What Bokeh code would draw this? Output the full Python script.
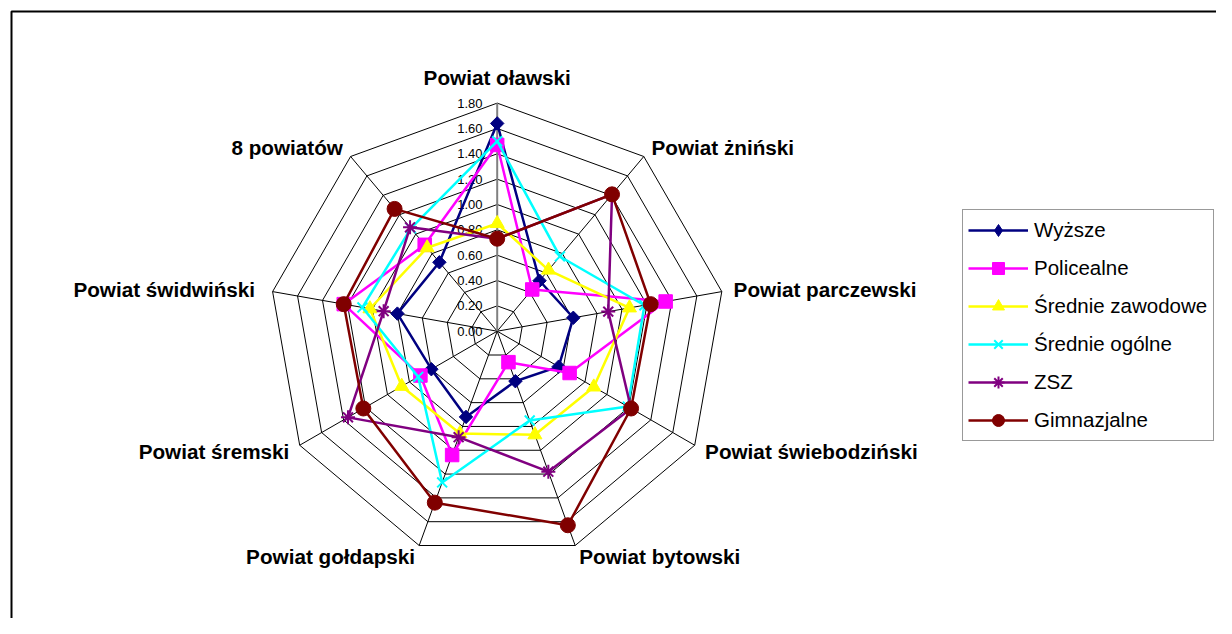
import numpy as np
from bokeh.plotting import figure
from bokeh.models import Range1d, Legend, LegendItem
from bokeh.core.properties import value
from bokeh.embed import file_html
from bokeh.resources import INLINE

# ---------------- data ----------------
categories = ["Powiat oławski", "Powiat żniński", "Powiat parczewski",
              "Powiat świebodziński", "Powiat bytowski", "Powiat gołdapski",
              "Powiat śremski", "Powiat  świdwiński", "8 powiatów"]
ticks = [0.0, 0.2, 0.4, 0.6, 0.8, 1.0, 1.2, 1.4, 1.6, 1.8]
tick_labels = ["0.00", "0.20", "0.40", "0.60", "0.80", "1.00", "1.20", "1.40", "1.60", "1.80"]

series_names = ["Wyższe", "Policealne", "Średnie zawodowe", "Średnie ogólne", "ZSZ", "Gimnazjalne"]
wyzsze      = [1.64, 0.52, 0.61, 0.56, 0.42, 0.72, 0.60, 0.80, 0.71]
policealne  = [1.47, 0.43, 1.35, 0.66, 0.26, 1.04, 0.70, 1.23, 0.89]
sr_zawodowe = [0.85, 0.63, 1.06, 0.88, 0.87, 0.86, 0.87, 1.02, 0.86]
sr_ogolne   = [1.50, 0.77, 1.18, 1.19, 0.75, 1.27, 0.72, 1.08, 1.06]
zsz         = [0.73, 1.41, 0.89, 1.22, 1.18, 0.89, 1.36, 0.91, 1.07]
gimnazjalne = [0.73, 1.41, 1.23, 1.22, 1.63, 1.44, 1.22, 1.23, 1.26]
series_values = [wyzsze, policealne, sr_zawodowe, sr_ogolne, zsz, gimnazjalne]

colors  = ["#000080", "#FF00FF", "#FFFF00", "#00FFFF", "#800080", "#800000"]
markers = ["square", "square", "triangle", "x", "asterisk", "circle"]
legend_markers = ["diamond", "square", "triangle", "x", "asterisk", "circle"]
msizes  = [9.5, 13.5, 14, 14, 14, 15]
mangles = [np.pi / 4, 0, 0, 0, 0, 0]

# ---------------- geometry ----------------
W, H = 1216, 618
CX, CY = 496.7, 330.7      # centre in figure pixels
S = 126.7                  # pixels per unit
RMAX = ticks[-1]
N = len(categories)
theta = np.pi / 2 - np.arange(N) * 2 * np.pi / N
cs, sn = np.cos(theta), np.sin(theta)

p = figure(width=W, height=H,
           x_range=Range1d(-CX / S, (W - CX) / S),
           y_range=Range1d(-(H - CY) / S, CY / S),
           x_axis_type=None, y_axis_type=None,
           toolbar_location=None, output_backend="svg",
           min_border=0, outline_line_color=None,
           background_fill_color="white", border_fill_color="white")

# chart-area frame (top and left edges visible)
fx = (11 - CX) / S
fy = (CY - 11) / S
p.line([fx, fx, (W + 20 - CX) / S], [-(H + 20 - CY) / S, fy, fy],
       line_color="black", line_width=2)

# rings
ring_xs = [list(np.append(t * cs, t * cs[0])) for t in ticks[1:]]
ring_ys = [list(np.append(t * sn, t * sn[0])) for t in ticks[1:]]
p.multi_line(ring_xs, ring_ys, line_color="black", line_width=1)

# spokes
sp_xs = [[0, RMAX * cs[k]] for k in range(1, N)]
sp_ys = [[0, RMAX * sn[k]] for k in range(1, N)]
p.multi_line(sp_xs, sp_ys, line_color="black", line_width=1)
p.line([0, RMAX * cs[0]], [0, RMAX * sn[0]], line_color="#808080", line_width=2)

# tick labels
p.text(x=[-14.7 / S] * len(ticks), y=ticks, text=tick_labels,
       text_align="right", text_baseline="middle",
       text_font=value("Liberation Sans"), text_font_size="13px", text_color="black")

# category labels
lx, ly, la = [], [], []
for k in range(N):
    if abs(cs[k]) < 0.1:
        r = RMAX + 25.7 / S
        la.append("center")
    else:
        r = RMAX + 12 / S
        la.append("left" if cs[k] > 0 else "right")
    lx.append(r * cs[k])
    ly.append(r * sn[k])
p.text(x=lx, y=ly, text=categories, text_align=la, text_baseline="middle",
       text_font=value("Liberation Sans"), text_font_style="bold",
       text_font_size="20.7px", text_color="black")

# series
items = []
for name, vals, col, mk, lmk, ms, ang in zip(series_names, series_values, colors, markers,
                                             legend_markers, msizes, mangles):
    v = np.array(vals)
    x = v * cs
    y = v * sn
    lr = p.line(list(np.append(x, x[0])), list(np.append(y, y[0])),
                line_color=col, line_width=2.5)
    lw = 2 if mk in ("x", "asterisk") else 1
    sr = p.scatter(list(x), list(y), marker=mk, size=ms, angle=ang,
                   fill_color=col, line_color=col, line_width=lw)
    if lmk != mk:
        # legend-only marker shape (legend swatches ignore marker rotation);
        # a single NaN row is never drawn in the plot area
        sr_leg = p.scatter(x=[np.nan], y=[np.nan], marker=lmk, size=ms,
                           fill_color=col, line_color=col, line_width=lw)
        items.append(LegendItem(label=name, renderers=[lr, sr_leg]))
    else:
        items.append(LegendItem(label=name, renderers=[lr, sr]))

lg = Legend(items=items, location=(962, 177))
lg.margin = 0
lg.padding = 5
lg.spacing = 8
lg.glyph_width = 60
lg.glyph_height = 30
lg.label_height = 30
lg.label_standoff = 6
lg.label_width = 174
lg.label_text_font = "Liberation Sans"
lg.label_text_font_size = "20.5px"
lg.label_text_color = "black"
lg.border_line_color = "#333333"
lg.border_line_width = 1
lg.background_fill_color = "white"
lg.background_fill_alpha = 1.0
p.add_layout(lg, "center")

open("out.html", "w").write(file_html(p, INLINE))
